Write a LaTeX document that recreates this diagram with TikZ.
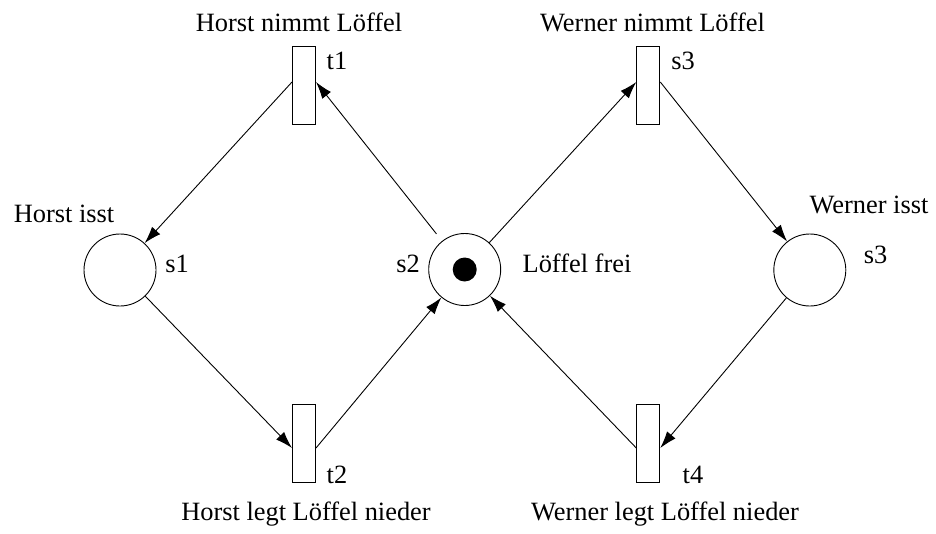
\documentclass[tikz,border=0pt]{standalone}
\usepackage{fontspec}
\setmainfont{Liberation Serif}
\usetikzlibrary{arrows.meta}
\begin{document}
\begin{tikzpicture}[x=1pt,y=-1pt,
  place/.style={draw,circle,minimum size=72pt,inner sep=0pt,line width=0.9pt},
  trans/.style={draw,rectangle,minimum width=23pt,minimum height=78pt,inner sep=0pt,line width=1pt},
  token/.style={fill=black,circle,minimum size=24pt,inner sep=0pt},
  lbl/.style={font=\fontsize{26.4}{30}\selectfont,inner sep=0pt,anchor=base},
  arc/.style={-{Latex[length=17pt,width=11pt]},line width=0.9pt}]
\useasboundingbox (0,0) rectangle (936,533);
% places
\node[place] (s1) at (120,270) {};
\node[place] (s2) at (464.7,269.5) {};
\node[token] (tok) at (464.7,269.5) {};
\node[place] (s3) at (809.8,270) {};
% transitions
\node[trans] (t1) at (304,85.5) {};
\node[trans] (t3) at (648.3,85.5) {};
\node[trans] (t2) at (304,443.5) {};
\node[trans] (t4) at (648.3,443.5) {};
% labels
\node[lbl] (l1) at (299,31) {Horst nimmt Löffel};
\node[lbl] (l2) at (652.5,31) {Werner nimmt Löffel};
\node[lbl] (l3) at (337,69) {t1};
\node[lbl] (l4) at (683,69) {s3};
\node[lbl] (l5) at (64,222) {Horst isst};
\node[lbl] (l6) at (869,213) {Werner isst};
\node[lbl] (l7) at (177,272) {s1};
\node[lbl] (l8) at (408,272) {s2};
\node[lbl] (l9) at (577,272) {Löffel frei};
\node[lbl] (l10) at (875.5,263) {s3};
\node[lbl] (l11) at (337,483) {t2};
\node[lbl] (l12) at (693,483) {t4};
\node[lbl] (l13) at (306,520) {Horst legt Löffel nieder};
\node[lbl] (l14) at (665,520) {Werner legt Löffel nieder};
% arcs
\draw[arc] ([yshift=3.5pt]t1.west) -- (s1);
\draw[arc,shorten <=9pt] (s2) -- ([yshift=3.5pt]t1.east);
\draw[arc] (s2) -- ([yshift=3.5pt]t3.west);
\draw[arc] ([yshift=3.5pt]t3.east) -- (s3);
\draw[arc] (s1) -- ([yshift=-4.5pt]t2.west);
\draw[arc] ([yshift=-4.5pt]t2.east) -- (s2);
\draw[arc] (s3) -- ([yshift=-4.5pt]t4.east);
\draw[arc] ([yshift=-4.5pt]t4.west) -- (s2);
\end{tikzpicture}
\end{document}
